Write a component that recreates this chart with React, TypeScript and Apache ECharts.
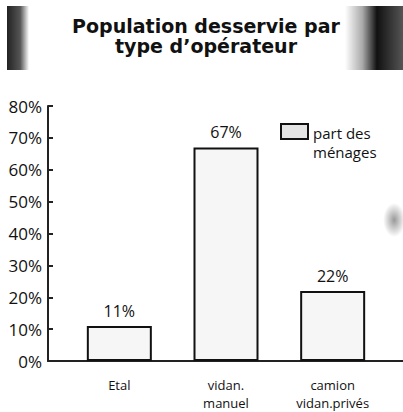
import React, { useEffect, useRef } from "react";
import * as echarts from "echarts";

const categories = ["Etal", "vidan.\nmanuel", "camion\nvidan.privés"];
const values = [11, 67, 22];
const seriesName = "part des\nménages";
const titleText = "Population desservie par\ntype d’opérateur";

export default function App() {
  const ref = useRef<HTMLDivElement>(null);
  useEffect(() => {
    document.body.style.margin = "0";
    if (!ref.current) return;
    const chart = echarts.init(ref.current, undefined, { renderer: "svg" });
    const font = "Open Sans";
    chart.setOption({
      animation: false,
      backgroundColor: "#ffffff",
      title: {
        text: titleText,
        left: 201,
        textAlign: "center",
        top: 11,
        textStyle: {
          fontFamily: "DejaVu Sans",
          fontWeight: "bold",
          fontSize: 19,
          lineHeight: 20,
          color: "#111",
        },
      },
      legend: {
        data: [{ name: seriesName, icon: "path://M0,0L27,0L27,15L0,15Z M0,36" }],
        left: 280,
        top: 123,
        padding: 0,
        itemWidth: 27,
        itemHeight: 36,
        itemGap: 6,
        textStyle: { fontFamily: font, fontSize: 15, lineHeight: 19, color: "#111" },
        itemStyle: { color: "#e4e4e4", borderColor: "#111", borderWidth: 2 },
      },
      grid: [
        { left: 66, right: 17, top: 106, bottom: 51 },
        { left: 48, right: 0, top: 106, bottom: 51 },
      ],
      xAxis: [
        {
          type: "category",
          gridIndex: 0,
          data: categories,
          axisLine: { show: false },
          axisTick: { show: false },
          axisLabel: {
            margin: 15,
            fontFamily: font,
            fontSize: 13,
            lineHeight: 18,
            color: "#111",
          },
        },
        {
          type: "value",
          gridIndex: 1,
          axisLine: { show: true, lineStyle: { color: "#222", width: 2 } },
          axisTick: { show: false },
          axisLabel: { show: false },
          splitLine: { show: false },
        },
      ],
      yAxis: [
        {
          type: "value",
          gridIndex: 0,
          min: 0,
          max: 80,
          interval: 10,
          offset: 18,
          axisLine: { show: true, lineStyle: { color: "#222", width: 2 } },
          axisTick: { show: true, inside: true, length: 5, lineStyle: { color: "#222", width: 2 } },
          axisLabel: {
            formatter: "{value}%",
            margin: 6,
            fontFamily: font,
            fontSize: 17,
            color: "#111",
          },
          splitLine: { show: false },
        },
        {
          type: "value",
          gridIndex: 1,
          show: false,
        },
      ],
      series: [
        {
          name: seriesName,
          type: "bar",
          xAxisIndex: 0,
          yAxisIndex: 0,
          data: values,
          barWidth: 65,
          itemStyle: { color: "#f6f6f6", borderColor: "#111", borderWidth: 2 },
          label: {
            show: true,
            position: "top",
            distance: 7,
            formatter: "{c}%",
            fontFamily: font,
            fontSize: 16,
            color: "#111",
          },
        },
      ],
      graphic: [
        {
          type: "rect",
          shape: { x: 7, y: 6, width: 22, height: 64 },
          style: {
            fill: new echarts.graphic.LinearGradient(0, 0, 1, 0, [
              { offset: 0, color: "#222" },
              { offset: 0.6, color: "#555" },
              { offset: 1, color: "#ffffff" },
            ]),
          },
        },
        {
          type: "rect",
          shape: { x: 345, y: 6, width: 58, height: 64 },
          style: {
            fill: new echarts.graphic.LinearGradient(0, 0, 1, 0, [
              { offset: 0, color: "#ffffff" },
              { offset: 0.3, color: "#aaa" },
              { offset: 0.55, color: "#111" },
              { offset: 1, color: "#555" },
            ]),
          },
        },
        {
          type: "rect",
          shape: { x: 381, y: 203, width: 22, height: 34 },
          style: {
            fill: new echarts.graphic.RadialGradient(0.6, 0.5, 0.5, [
              { offset: 0, color: "#999" },
              { offset: 1, color: "#ffffff" },
            ]),
          },
        },
      ],
    });
    return () => chart.dispose();
  }, []);
  return <div ref={ref} style={{ width: 403, height: 412 }} />;
}
